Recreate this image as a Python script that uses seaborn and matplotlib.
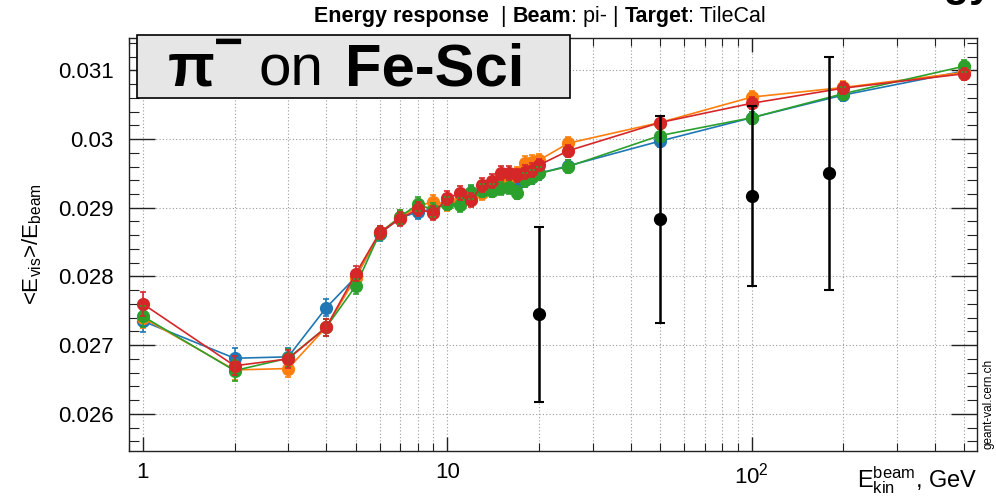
import numpy as np
import pandas as pd
import matplotlib
matplotlib.use("Agg")
import matplotlib.pyplot as plt
import seaborn as sns
from matplotlib.patches import Rectangle
from matplotlib.ticker import (FixedLocator, FixedFormatter, LogLocator,
                               NullFormatter, MultipleLocator, FuncFormatter)

# ---- data -------------------------------------------------------------
energies = [1, 2, 3, 4, 5, 6, 7, 8, 9, 10, 11, 12, 13, 14, 15, 16, 17, 18,
            19, 20, 25, 50, 100, 200, 500]

series_names = ["model A", "model B", "model C", "model D"]
series_colors = ["#1f77b4", "#ff7f0e", "#2ca02c", "#d62728"]

resp_a = [0.02735, 0.02681, 0.02683, 0.027545, 0.02799, 0.02862, 0.02885,
          0.02894, 0.02898, 0.02908, 0.02908, 0.02921, 0.02923, 0.02926,
          0.02930, 0.02935, 0.02935, 0.02940, 0.02945, 0.02950, 0.02961,
          0.02997, 0.03031, 0.03064, 0.03099]
resp_b = [0.02740, 0.02664, 0.02666, 0.02726, 0.02798, 0.02864, 0.02886,
          0.02902, 0.02909, 0.02905, 0.02911, 0.02912, 0.02921, 0.02928,
          0.02943, 0.02940, 0.02950, 0.02965, 0.02967, 0.02969, 0.02994,
          0.03024, 0.03061, 0.03075, 0.03097]
resp_c = [0.02742, 0.02663, 0.02681, 0.02726, 0.02786, 0.02863, 0.02887,
          0.02905, 0.02897, 0.02906, 0.02904, 0.02923, 0.02925, 0.02925,
          0.02928, 0.02930, 0.02922, 0.02940, 0.02945, 0.02950, 0.02960,
          0.03005, 0.03031, 0.03066, 0.03106]
resp_d = [0.02760, 0.02670, 0.02680, 0.02726, 0.02804, 0.02864, 0.02884,
          0.02898, 0.02892, 0.02914, 0.02921, 0.02911, 0.02933, 0.02939,
          0.02951, 0.02951, 0.02947, 0.02952, 0.02955, 0.02962, 0.02983,
          0.03024, 0.03052, 0.03074, 0.03095]

err_a = [0.00016, 0.00015, 0.00013, 0.00012, 0.00011, 0.00010, 0.00010,
         0.00010, 0.00010, 0.00010, 0.00010, 0.00010, 0.00010, 0.00010,
         0.00010, 0.00010, 0.00010, 0.00010, 0.00010, 0.00009, 0.00009,
         0.00009, 0.00009, 0.00009, 0.00009]
err_b = [0.00015, 0.00014, 0.00013, 0.00012, 0.00011, 0.00010, 0.00010,
         0.00010, 0.00010, 0.00010, 0.00010, 0.00010, 0.00010, 0.00010,
         0.00010, 0.00010, 0.00010, 0.00010, 0.00010, 0.00009, 0.00009,
         0.00009, 0.00009, 0.00009, 0.00009]
err_c = [0.00015, 0.00015, 0.00013, 0.00012, 0.00011, 0.00010, 0.00010,
         0.00010, 0.00010, 0.00010, 0.00010, 0.00010, 0.00010, 0.00010,
         0.00010, 0.00010, 0.00010, 0.00010, 0.00010, 0.00009, 0.00009,
         0.00009, 0.00009, 0.00009, 0.00009]
err_d = [0.00018, 0.00014, 0.00013, 0.00012, 0.00011, 0.00010, 0.00010,
         0.00010, 0.00010, 0.00010, 0.00010, 0.00010, 0.00010, 0.00010,
         0.00010, 0.00010, 0.00010, 0.00010, 0.00010, 0.00009, 0.00009,
         0.00009, 0.00009, 0.00009, 0.00009]

# test-beam measurements
meas_energy = [20, 50, 100, 180]
meas_resp = [0.02745, 0.02883, 0.02917, 0.02950]
meas_err = [0.00127, 0.00151, 0.00131, 0.00170]

x_tick_values = [1, 10, 100]
x_tick_labels = ["1", "10", r"$10^{2}$"]

# ---- style ------------------------------------------------------------
sns.set_theme(style="ticks")
plt.rcParams["font.family"] = ["Liberation Sans", "DejaVu Sans"]
plt.rcParams["mathtext.fontset"] = "custom"
plt.rcParams["mathtext.rm"] = "Liberation Sans"
plt.rcParams["mathtext.it"] = "Liberation Sans:italic"
plt.rcParams["mathtext.bf"] = "Liberation Sans:bold"
plt.rcParams["text.color"] = "black"
plt.rcParams["axes.labelcolor"] = "black"

W, H = 996, 496
fig = plt.figure(figsize=(W / 100, H / 100), dpi=100)
fig.patch.set_facecolor("white")
ax = fig.add_axes([129 / W, 1 - 451 / H, (977 - 129) / W, (451 - 38) / H])
ax.set_facecolor("white")

# ---- long-form table for seaborn -------------------------------------
all_resp = [resp_a, resp_b, resp_c, resp_d]
all_err = [err_a, err_b, err_c, err_d]
frames = []
for name, r, e in zip(series_names, all_resp, all_err):
    frames.append(pd.DataFrame({"energy": energies, "response": r,
                                "err": e, "model": name}))
df = pd.concat(frames, ignore_index=True)

for i, (name, col) in enumerate(zip(series_names, series_colors)):
    sub = df[df["model"] == name]
    ax.errorbar(sub["energy"], sub["response"], yerr=sub["err"], fmt="none",
                ecolor=col, elinewidth=1.2, capsize=2.5, capthick=1.2,
                zorder=3 + i)

sns.lineplot(data=df, x="energy", y="response", hue="model",
             hue_order=series_names, palette=series_colors, marker="o",
             markersize=9.5, markeredgewidth=0, linewidth=1.2,
             estimator=None, errorbar=None, legend=False, ax=ax, zorder=4)

ax.errorbar(meas_energy, meas_resp, yerr=meas_err, fmt="o", color="black",
            markersize=8.5, elinewidth=1.8, capsize=3.5, capthick=1.5,
            zorder=8)

# ---- axes -------------------------------------------------------------
ax.set_xscale("log")
ax.set_xlim(0.9, 550)
ax.set_ylim(0.02546, 0.03147)

ax.xaxis.set_major_locator(FixedLocator(x_tick_values))
ax.xaxis.set_major_formatter(FixedFormatter(x_tick_labels))
ax.xaxis.set_minor_locator(LogLocator(base=10, subs=range(2, 10), numticks=20))
ax.xaxis.set_minor_formatter(NullFormatter())
ax.yaxis.set_major_locator(MultipleLocator(0.001))
ax.yaxis.set_minor_locator(MultipleLocator(0.0002))
ax.yaxis.set_major_formatter(FuncFormatter(lambda v, p: f"{round(v, 4):g}"))

for sp in ax.spines.values():
    sp.set_color("#222222")
    sp.set_linewidth(1.0)
    sp.set_visible(True)

ax.tick_params(axis="y", which="major", direction="in", length=19, width=1,
               left=True, right=True, labelsize=16, pad=11, colors="#222222",
               labelcolor="black")
ax.tick_params(axis="y", which="minor", direction="in", length=7, width=0.8,
               left=True, right=True, colors="#222222")
ax.tick_params(axis="x", which="major", direction="in", length=10, width=1,
               bottom=True, top=True, labelsize=16, pad=8, colors="#222222",
               labelcolor="black")
ax.tick_params(axis="x", which="minor", direction="in", length=6, width=0.8,
               bottom=True, top=True, colors="#222222")

ax.grid(True, which="major", axis="y", linestyle=(0, (1, 2)),
        color="#9a9a9a", linewidth=0.8)
ax.grid(True, which="both", axis="x", linestyle=(0, (1, 2)),
        color="#9a9a9a", linewidth=0.8)
ax.set_axisbelow(True)

ax.set_xlabel("")
ax.set_ylabel(r"<E$_{\mathrm{vis}}$>/E$_{\mathrm{beam}}$", fontsize=16)
ax.yaxis.set_label_coords((44 - 129) / (977 - 129), 0.5)
ax.text(1.0, (451 - 487) / (451 - 38),
        r"E$_{\mathrm{kin}}^{\mathrm{beam}}$, GeV", transform=ax.transAxes,
        ha="right", va="baseline", fontsize=17)

# ---- title line with bold keywords -------------------------------------
renderer = fig.canvas.get_renderer()
title_parts = [("Energy response", "bold"), ("  | ", "normal"),
               ("Beam", "bold"), (": pi- | ", "normal"),
               ("Target", "bold"), (": TileCal", "normal")]
title_size = 15.5
texts = []
for s, w in title_parts:
    texts.append(fig.text(0, 1 - 22 / H, s, fontsize=title_size,
                          fontweight=w, ha="left", va="baseline"))
widths = [t.get_window_extent(renderer).width for t in texts]
x = 540 - sum(widths) / 2
for t, wdt in zip(texts, widths):
    t.set_x(x / W)
    x += wdt

# ---- particle / target label box ---------------------------------------
fig.patches.append(Rectangle((137 / W, 1 - 98 / H), (570 - 137) / W,
                             (98 - 35) / H, transform=fig.transFigure,
                             facecolor="#e6e6e6", edgecolor="black",
                             linewidth=1.2, zorder=10))
fig.text(168 / W, 1 - 85 / H, "π", fontsize=44, fontweight="bold",
         ha="left", va="baseline", zorder=11)
fig.text(214 / W, 1 - 58 / H, "−", fontsize=36, fontweight="bold",
         ha="left", va="baseline", zorder=11)
fig.text(258 / W, 1 - 85 / H, "on", fontsize=42, ha="left",
         va="baseline", zorder=11)
fig.text(345 / W, 1 - 85 / H, "Fe-Sci", fontsize=43, fontweight="bold",
         ha="left", va="baseline", zorder=11)

# corner banner (runs off the top edge)
fig.text(992 / W, 1 + 4 / H, "Energy", fontsize=30, fontweight="bold",
         ha="right", va="baseline")

fig.text(988 / W, 1 - 449 / H, "geant-val.cern.ch", fontsize=8.5,
         rotation=90, ha="center", va="bottom")

fig.savefig("out.png", dpi=100, facecolor="white")
